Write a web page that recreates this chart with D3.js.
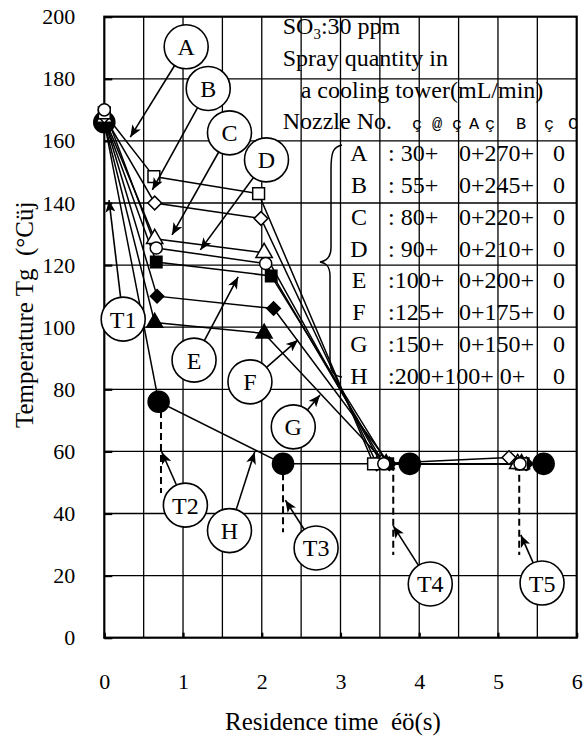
<!DOCTYPE html>
<html>
<head>
<meta charset="utf-8">
<script src="https://cdn.jsdelivr.net/npm/d3@7"></script>
<style>
  html, body { margin: 0; padding: 0; background: #fff; }
  svg { display: block; }
</style>
</head>
<body>
<svg id="chart" width="586" height="738"></svg>
<script>
// Gas temperature along the duct for eight spray patterns (A–H)
const seriesNames = ["A", "B", "C", "D", "E", "F", "G", "H"];

const timeA = [0, 0.63, 1.96, 3.42, 5.30];
const tempA = [169, 148.5, 143, 56, 56];
const timeB = [0, 0.64, 1.99, 3.46, 5.14];
const tempB = [168, 140, 135, 56, 58];
const timeC = [0, 0.64, 2.03, 3.52, 5.25];
const tempC = [167.5, 128.5, 124, 56, 56];
const timeD = [0, 0.66, 2.05, 3.55, 5.28];
const tempD = [170, 125.5, 120.5, 56, 56];
const timeE = [0, 0.66, 2.12, 3.60, 5.32];
const tempE = [167, 121, 116.5, 56, 56];
const timeF = [0, 0.67, 2.15, 3.62, 5.36];
const tempF = [167, 110, 106, 56, 56];
const timeG = [0, 0.64, 2.03, 3.58, 5.30];
const tempG = [166, 101.5, 98, 56, 56];
const timeH = [0, 0.69, 2.27, 3.88, 5.58];
const tempH = [166, 76, 56, 56, 56];

const seriesTimes = [timeA, timeB, timeC, timeD, timeE, timeF, timeG, timeH];
const seriesTemps = [tempA, tempB, tempC, tempD, tempE, tempF, tempG, tempH];

// Spray quantity (mL/min) at nozzles 1–4 for each pattern
const nozzle1 = [30, 55, 80, 90, 100, 125, 150, 200];
const nozzle2 = [0, 0, 0, 0, 0, 0, 0, 100];
const nozzle3 = [270, 245, 220, 210, 200, 175, 150, 0];
const nozzle4 = [0, 0, 0, 0, 0, 0, 0, 0];

const xTicks = [0, 1, 2, 3, 4, 5, 6];
const yTicks = [0, 20, 40, 60, 80, 100, 120, 140, 160, 180, 200];

// Measurement points T2–T5 (residence time of each probe)
const probeTimes = [0.72, 2.27, 3.67, 5.27];
const probeTop = [73, 53, 56, 56];
const probeBottom = [46.6, 34, 26.6, 26.6];

// Callout bubbles: label, bubble centre and arrow tip (data units)
const calloutLabels = ["A", "B", "C", "D", "E", "F", "G", "H", "T1", "T2", "T3", "T4", "T5"];
const calloutCenters = [[1.04, 190.3], [1.32, 176.9], [1.59, 162.6], [2.06, 153.9],
  [1.14, 89.4], [1.85, 82.4], [2.40, 67.9], [1.59, 34.5],
  [0.24, 102.6], [1.03, 42.7], [2.69, 28.9], [4.14, 17.3], [5.56, 17.6]];
const calloutTips = [[0.33, 161.2], [0.61, 144.2], [0.86, 129.7], [1.22, 124.9],
  [1.70, 116.2], [2.46, 95.9], [2.74, 78.2], [1.91, 59.8],
  [0.06, 140.9], [0.73, 59.8], [2.30, 44.3], [3.67, 36], [5.29, 33.1]];

const SERIF = "Liberation Serif, Times New Roman, serif";
const svg = d3.select("#chart");
const margin = { top: 16.7, right: 9.3, bottom: 100.3, left: 104.3 };
const W = 586, H = 738;
const innerW = W - margin.left - margin.right;
const innerH = H - margin.top - margin.bottom;

const x = d3.scaleLinear().domain([0, 6]).range([margin.left, margin.left + innerW]);
const y = d3.scaleLinear().domain([0, 200]).range([margin.top + innerH, margin.top]);

// grid
const grid = svg.append("g").attr("stroke", "#000").attr("stroke-width", 1.3);
d3.range(0.5, 6, 0.5).forEach(v => {
  grid.append("line").attr("x1", x(v)).attr("x2", x(v)).attr("y1", y(0)).attr("y2", y(200));
});
d3.range(20, 200, 20).forEach(v => {
  grid.append("line").attr("x1", x(0)).attr("x2", x(6)).attr("y1", y(v)).attr("y2", y(v));
});

// frame
svg.append("rect")
  .attr("x", x(0)).attr("y", y(200))
  .attr("width", x(6) - x(0)).attr("height", y(0) - y(200))
  .attr("fill", "none").attr("stroke", "#000").attr("stroke-width", 2.2);

// axes
const xAxis = svg.append("g")
  .attr("transform", `translate(0,${y(0)})`)
  .call(d3.axisBottom(x).tickValues(xTicks).tickSize(-5).tickPadding(36).tickFormat(d3.format("d")));
xAxis.select(".domain").remove();
xAxis.selectAll("line").attr("stroke-width", 2.2);
xAxis.selectAll("text").attr("font-size", 22).attr("font-family", SERIF);

const yAxis = svg.append("g")
  .attr("transform", `translate(${x(0)},0)`)
  .call(d3.axisLeft(y).tickValues(yTicks).tickSize(-8).tickPadding(29).tickFormat(d3.format("d")));
yAxis.select(".domain").remove();
yAxis.selectAll("line").attr("stroke-width", 2.2);
yAxis.selectAll("text").attr("font-size", 22).attr("font-family", SERIF);

// axis titles
svg.append("text")
  .attr("x", 225).attr("y", 730)
  .attr("font-size", 25).attr("font-family", SERIF)
  .attr("xml:space", "preserve")
  .text("Residence time  éö(s)");

svg.append("text")
  .attr("transform", "translate(33,428) rotate(-90)")
  .attr("font-size", 25).attr("font-family", SERIF)
  .attr("xml:space", "preserve")
  .text("Temperature Tg  (°Cüj");

// legend table text
const tx = 282.7, ty0 = 34, dy = 31.8;
const legendText = svg.append("g").attr("font-size", 24).attr("font-family", SERIF);
const so3 = legendText.append("text").attr("x", tx).attr("y", ty0);
so3.append("tspan").text("SO");
so3.append("tspan").attr("font-size", 15).attr("dy", 5).text("3");
so3.append("tspan").attr("dy", -5).text(":30 ppm");
legendText.append("text").attr("x", tx).attr("y", ty0 + dy).text("Spray quantity in");
legendText.append("text").attr("x", 300.7).attr("y", ty0 + 2 * dy).text("a cooling tower(mL/min)");
legendText.append("text").attr("x", tx).attr("y", ty0 + 3 * dy).text("Nozzle No.");
legendText.append("text")
  .attr("x", "417 437 457 474 490 521 549 573")
  .attr("y", ty0 + 3 * dy)
  .attr("font-family", "Liberation Mono, monospace")
  .attr("font-size", 17)
  .attr("text-anchor", "middle")
  .text("ç@çAçBçC");

seriesNames.forEach((name, i) => {
  const by = ty0 + (4 + i) * dy;
  legendText.append("text").attr("x", 359).attr("y", by).attr("text-anchor", "middle").text(name);
  const n1 = nozzle1[i] < 100 ? ": " + nozzle1[i] + "+" : ":" + nozzle1[i] + "+";
  if (nozzle2[i] > 0) {
    legendText.append("text").attr("x", 388).attr("y", by).attr("xml:space", "preserve")
      .text(n1 + nozzle2[i] + "+ " + nozzle3[i] + "+");
  } else {
    legendText.append("text").attr("x", 388).attr("y", by).text(n1);
    legendText.append("text").attr("x", 459).attr("y", by).text(nozzle2[i] + "+" + nozzle3[i] + "+");
  }
  legendText.append("text").attr("x", 559).attr("y", by).attr("text-anchor", "middle").text(nozzle4[i]);
});

// curly brace grouping the nozzle rows
svg.append("path")
  .attr("d", "M342,145 C333,147 331,152 331,170 L331,248 C331,258 326,261 320,262 C326,263 330,266 330,276 L330,360 C330,372 334,376 342,377")
  .attr("fill", "none").attr("stroke", "#000").attr("stroke-width", 1.5);

// series lines
const line = d3.line().x(d => x(d[0])).y(d => y(d[1]));
seriesNames.forEach((name, i) => {
  const pts = seriesTimes[i].map((t, j) => [t, seriesTemps[i][j]]);
  svg.append("path").datum(pts)
    .attr("d", line)
    .attr("fill", "none").attr("stroke", "#000").attr("stroke-width", 1.5);
});

// probe drop lines
probeTimes.forEach((t, i) => {
  svg.append("line")
    .attr("x1", x(t)).attr("x2", x(t))
    .attr("y1", y(probeTop[i])).attr("y2", y(probeBottom[i]))
    .attr("stroke", "#000").attr("stroke-width", 2).attr("stroke-dasharray", "7,4");
});

// markers
const markerShapes = [
  { type: d3.symbolSquare, size: 140, fill: "#fff", rot: 0 },
  { type: d3.symbolSquare, size: 95, fill: "#fff", rot: 45 },
  { type: d3.symbolTriangle, size: 115, fill: "#fff", rot: 0 },
  { type: d3.symbolCircle, size: 115, fill: "#fff", rot: 0 },
  { type: d3.symbolSquare, size: 130, fill: "#000", rot: 0 },
  { type: d3.symbolSquare, size: 90, fill: "#000", rot: 45 },
  { type: d3.symbolTriangle, size: 110, fill: "#000", rot: 0 },
  { type: d3.symbolCircle, size: 350, fill: "#000", rot: 0 }
];
// filled series first so open markers stay visible on top at the start
[7, 6, 5, 4, 2, 1, 0, 3].forEach(i => {
  const m = markerShapes[i];
  const sym = d3.symbol().type(m.type).size(m.size);
  svg.append("g").selectAll("path")
    .data(seriesTimes[i].map((t, j) => [t, seriesTemps[i][j]]))
    .join("path")
    .attr("d", sym)
    .attr("transform", d => `translate(${x(d[0])},${y(d[1])}) rotate(${m.rot})`)
    .attr("fill", m.fill).attr("stroke", "#000").attr("stroke-width", 1.5);
});

// arrowhead
svg.append("defs").append("marker")
  .attr("id", "arrow").attr("viewBox", "0 0 12 10")
  .attr("refX", 12).attr("refY", 5)
  .attr("markerWidth", 13).attr("markerHeight", 10)
  .attr("markerUnits", "userSpaceOnUse").attr("orient", "auto")
  .append("path").attr("d", "M0,0 L12,5 L0,10 L3,5 Z").attr("fill", "#000");

// callouts
const R = 22;
calloutLabels.forEach((lab, i) => {
  const cx = x(calloutCenters[i][0]), cy = y(calloutCenters[i][1]);
  const tx2 = x(calloutTips[i][0]), ty2 = y(calloutTips[i][1]);
  const len = Math.hypot(tx2 - cx, ty2 - cy);
  const sx = cx + (tx2 - cx) / len * R, sy = cy + (ty2 - cy) / len * R;
  svg.append("line")
    .attr("x1", sx).attr("y1", sy).attr("x2", tx2).attr("y2", ty2)
    .attr("stroke", "#000").attr("stroke-width", 1.6)
    .attr("marker-end", "url(#arrow)");
  svg.append("circle").attr("cx", cx).attr("cy", cy).attr("r", R)
    .attr("fill", "#fff").attr("stroke", "#000").attr("stroke-width", 1.6);
  svg.append("text").attr("x", cx).attr("y", cy + 8.5)
    .attr("text-anchor", "middle").attr("font-size", 24).attr("font-family", SERIF).text(lab);
});
</script>
</body>
</html>
